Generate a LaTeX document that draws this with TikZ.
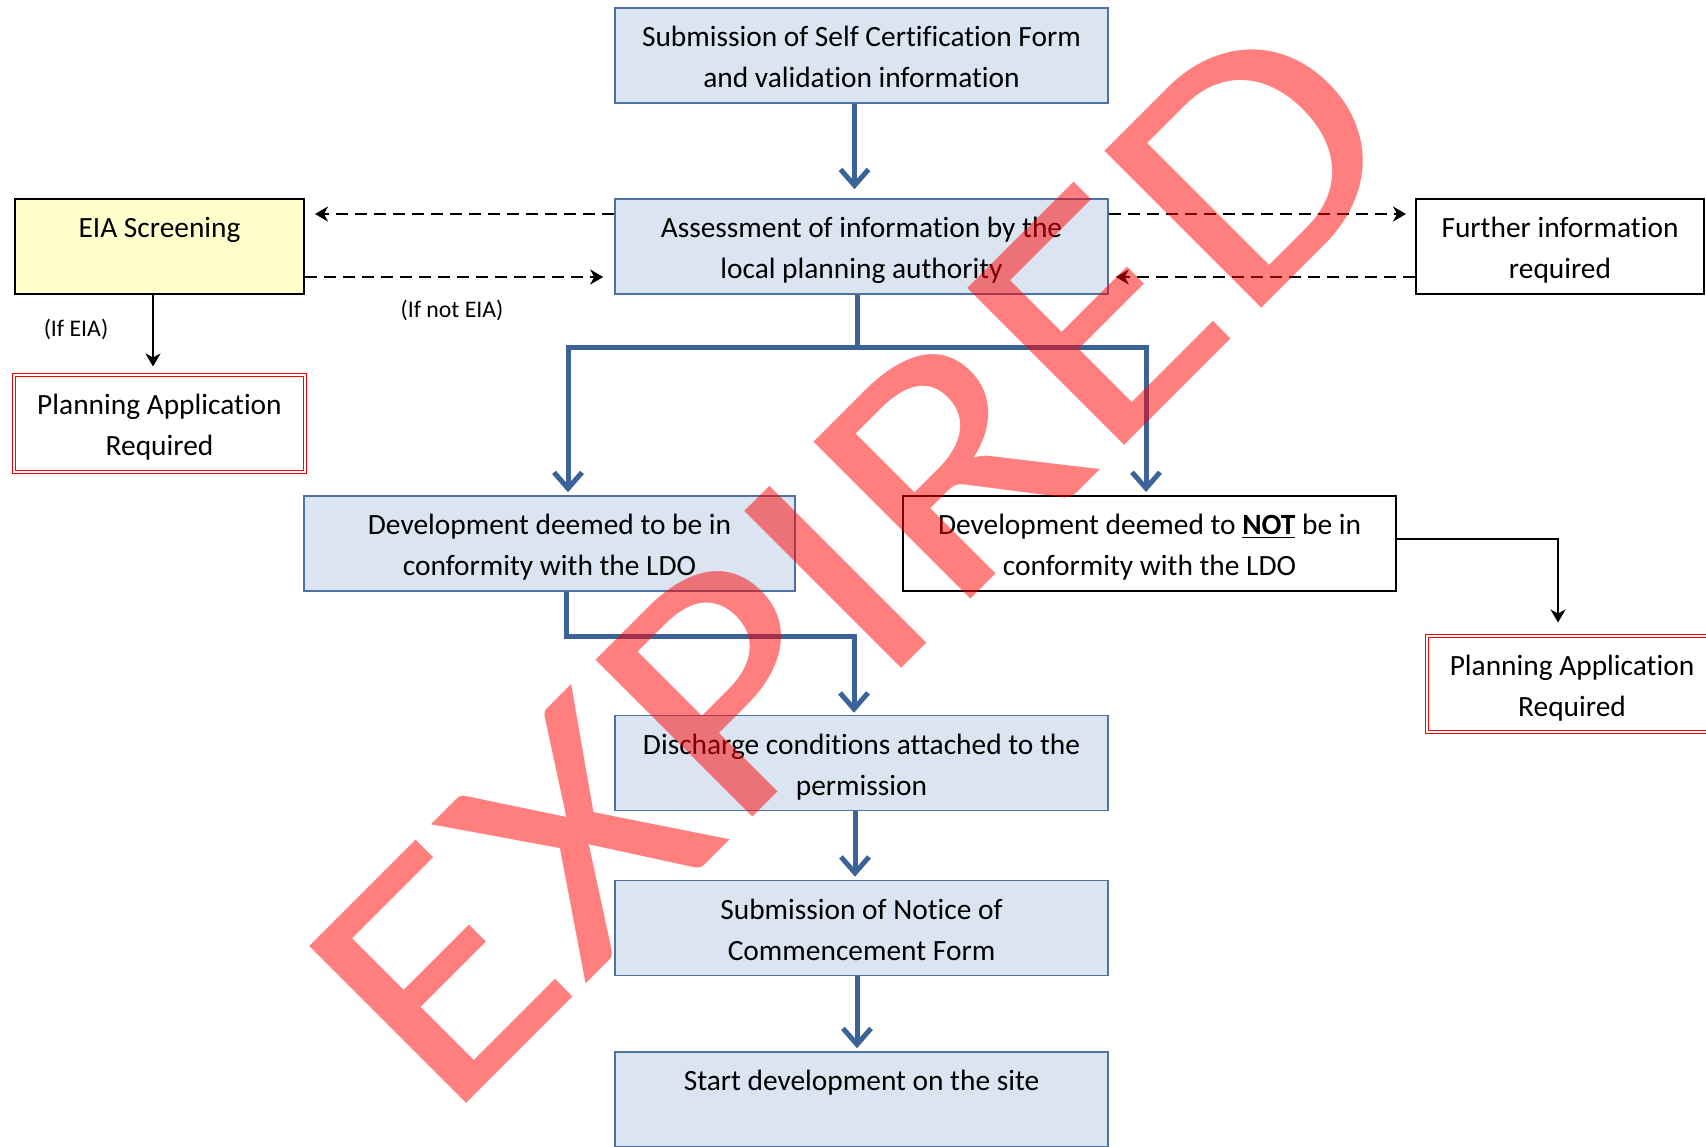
\documentclass[tikz,border=0pt]{standalone}
\usepackage{fontspec}
\setmainfont{Carlito}[Ligatures=NoCommon]
\usetikzlibrary{arrows.meta}

\definecolor{boxblue}{HTML}{DBE5F1}
\definecolor{edgeblue}{HTML}{4F72A6}
\definecolor{lineblue}{HTML}{3C6398}
\definecolor{eiayellow}{HTML}{FFFFCC}

\begin{document}
\begin{tikzpicture}[x=0.5pt,y=-0.5pt,
  every node/.style={font=\fontsize{14.7}{20.7}\selectfont, align=center, inner sep=0pt},
  bluebox/.style={draw=edgeblue, fill=boxblue, line width=0.8pt, minimum width=246.5pt, minimum height=47.5pt, text height=32.4pt, text depth=0pt},
  blackbox/.style={draw=black, fill=white, line width=1pt, minimum width=246.5pt, minimum height=47.5pt, text height=32.4pt, text depth=0pt},
  redbox/.style={draw=red, double=white, double distance=1pt, line width=0.5pt, minimum width=145.5pt, minimum height=48.5pt, text height=32.4pt, text depth=0pt},
  flow/.style={draw=lineblue, line width=2.5pt, -{Straight Barb[length=8pt,width=14pt]}},
  dashflow/.style={black, line width=1pt, dash pattern=on 6pt off 3.5pt, -{Stealth[length=6.5pt,width=7.5pt,inset=2pt]}},
  thinflow/.style={black, line width=1pt, -{Stealth[length=6.5pt,width=7.5pt,inset=2pt]}},
  small/.style={font=\fontsize{11.9}{14}\selectfont}]

\useasboundingbox (0,0) rectangle (1706,1146);

% Main column
\node[bluebox] (submit) at (861.5,55.5) {Submission of Self Certification Form\\and validation information};
\node[bluebox] (assess) at (861.5,246.5) {Assessment of information by the\\local planning authority};
\node[bluebox, minimum width=245.5pt] (inldo) at (549.5,543.5) {Development deemed to be in\\conformity with the LDO};
\node[blackbox] (notldo) at (1149.5,543.5) {Development deemed to \textbf{\underline{NOT}} be in\\conformity with the LDO};
\node[bluebox] (discharge) at (861.5,763) {Discharge conditions attached to the\\permission};
\node[bluebox] (notice) at (861.5,928) {Submission of Notice of\\Commencement Form};
\node[bluebox] (start) at (861.5,1099.5) {Start development on the site\\\mbox{}};

% Side boxes
\node[blackbox, fill=eiayellow, minimum width=144.5pt] (eia) at (159.5,246.5) {EIA Screening\\\mbox{}};
\node[blackbox, minimum width=144pt] (further) at (1560,246.5) {Further information\\required};
\node[redbox] (planleft) at (159.5,423.5) {Planning Application\\Required};
\node[redbox, minimum width=145pt, minimum height=48pt] (planright) at (1572,684) {Planning Application\\Required};

% Labels
\node[small] (ifnot) at (452,310) {(If not EIA)};
\node[small] (ifeia) at (76,329) {(If EIA)};

% Blue flow
\coordinate (split) at (857,347);
\coordinate (merge) at (700,636);
\draw[flow, shorten >=4.5pt] ([xshift=-3.5pt]submit.south) -- ([xshift=-3.5pt]assess.north);
\draw[draw=lineblue, line width=2.5pt] ([xshift=-2.25pt]assess.south) -- (split);
\draw[flow, shorten >=1.5pt] (split) -| ([xshift=9.25pt]inldo.north);
\draw[flow, shorten >=1.5pt] (split) -| ([xshift=-1.75pt]notldo.north);
\draw[flow, shorten >=1pt] ([xshift=8.25pt]inldo.south) |- (merge) -| ([xshift=-3.75pt]discharge.north);
\draw[flow, shorten >=1.5pt] ([xshift=-3.25pt]discharge.south) -- ([xshift=-3.25pt]notice.north);
\draw[flow, shorten >=1.5pt] ([xshift=-2.25pt]notice.south) -- ([xshift=-2.25pt]start.north);

% Dashed exchanges
\draw[dashflow] ([yshift=16.25pt]assess.west) -- ([yshift=16.25pt,xshift=5pt]eia.east);
\draw[dashflow] ([yshift=-15.25pt]eia.east) -- ([yshift=-15.25pt,xshift=-5.5pt]assess.west);
\draw[dashflow] ([yshift=16.25pt]assess.east) -- ([yshift=16.25pt,xshift=-4.5pt]further.west);
\draw[dashflow] ([yshift=-15.25pt]further.west) -- ([yshift=-15.25pt,xshift=3.5pt]assess.east);

% Planning application arrows
\draw[thinflow] ([xshift=-3.25pt]eia.south) -- ([xshift=-3.25pt,yshift=4pt]planleft.north);
\draw[thinflow] ([yshift=2.25pt]notldo.east) -| ([xshift=-7pt,yshift=6.5pt]planright.north);

% Stamp
\begin{scope}[shift={(446,1124)}, rotate=45, xscale=1.16]
\node[transform shape, anchor=base west, text=red, text opacity=0.5, font=\fontsize{173}{173}\selectfont] (stamp) at (0,0) {EXPIRED};
\end{scope}
\end{tikzpicture}
\end{document}
